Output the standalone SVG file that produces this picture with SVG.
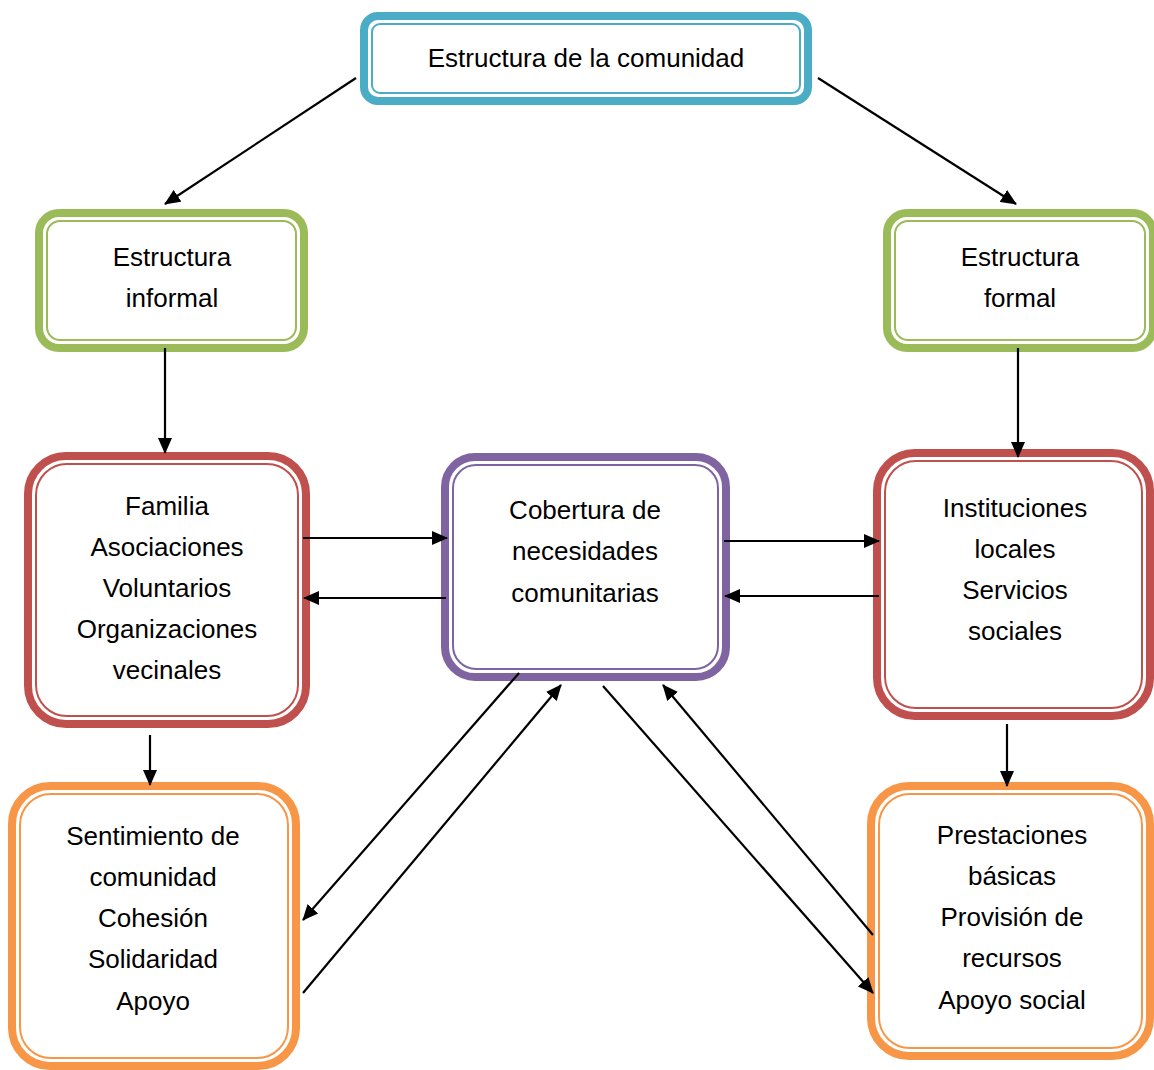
<svg xmlns="http://www.w3.org/2000/svg" width="1154" height="1070" viewBox="0 0 1154 1070">
  <defs>
    <marker id="arrow" markerUnits="userSpaceOnUse" markerWidth="16" markerHeight="14" refX="15" refY="7" orient="auto">
      <path d="M0,0 L16,7 L0,14 z" fill="#000"/>
    </marker>
    <style>
      .outer { fill: #fff; stroke-width: 8; }
      .inner { fill: none; stroke-width: 2; }
      .teal { stroke: #4BACC6; }
      .green { stroke: #9BBB59; }
      .red { stroke: #C0504D; }
      .purple { stroke: #8064A2; }
      .orange { stroke: #F79646; }
      text { font-family: "Liberation Sans", Arial, sans-serif; font-size: 26px; fill: #000; text-anchor: middle; }
      .conn line { stroke: #000; stroke-width: 2.2; marker-end: url(#arrow); }
    </style>
  </defs>
  <rect width="1154" height="1070" fill="#fff"/>

  <!-- top node -->
  <g id="estructura-comunidad">
    <rect class="outer teal" x="364" y="16" width="444" height="85" rx="14"/>
    <rect class="inner teal" x="372" y="24" width="428" height="69" rx="8"/>
    <text x="586" y="67">Estructura de la comunidad</text>
  </g>

  <!-- second row -->
  <g id="estructura-informal">
    <rect class="outer green" x="39" y="213" width="265" height="135" rx="20"/>
    <rect class="inner green" x="47" y="221" width="249" height="119" rx="13"/>
    <text x="172" y="266">Estructura</text>
    <text x="172" y="307">informal</text>
  </g>
  <g id="estructura-formal">
    <rect class="outer green" x="887" y="213" width="266" height="135" rx="20"/>
    <rect class="inner green" x="895" y="221" width="250" height="119" rx="13"/>
    <text x="1020" y="266">Estructura</text>
    <text x="1020" y="307">formal</text>
  </g>

  <!-- middle row -->
  <g id="informal-actores">
    <rect class="outer red" x="28" y="456" width="278" height="268" rx="38"/>
    <rect class="inner red" x="36" y="464" width="262" height="252" rx="31"/>
    <text x="167" y="515">Familia</text>
    <text x="167" y="556">Asociaciones</text>
    <text x="167" y="597">Voluntarios</text>
    <text x="167" y="638">Organizaciones</text>
    <text x="167" y="679">vecinales</text>
  </g>
  <g id="cobertura">
    <rect class="outer purple" x="445" y="457" width="281" height="220" rx="30"/>
    <rect class="inner purple" x="453" y="465" width="265" height="204" rx="23"/>
    <text x="585" y="519">Cobertura de</text>
    <text x="585" y="560">necesidades</text>
    <text x="585" y="602">comunitarias</text>
  </g>
  <g id="formal-actores">
    <rect class="outer red" x="877" y="453" width="273" height="263" rx="38"/>
    <rect class="inner red" x="885" y="461" width="257" height="247" rx="31"/>
    <text x="1015" y="517">Instituciones</text>
    <text x="1015" y="558">locales</text>
    <text x="1015" y="599">Servicios</text>
    <text x="1015" y="640">sociales</text>
  </g>

  <!-- bottom row -->
  <g id="sentimiento">
    <rect class="outer orange" x="12" y="786" width="284" height="280" rx="38"/>
    <rect class="inner orange" x="20" y="794" width="268" height="264" rx="31"/>
    <text x="153" y="845">Sentimiento de</text>
    <text x="153" y="886">comunidad</text>
    <text x="153" y="927">Cohesión</text>
    <text x="153" y="968">Solidaridad</text>
    <text x="153" y="1010">Apoyo</text>
  </g>
  <g id="prestaciones">
    <rect class="outer orange" x="871" y="786" width="279" height="270" rx="38"/>
    <rect class="inner orange" x="879" y="794" width="263" height="254" rx="31"/>
    <text x="1012" y="844">Prestaciones</text>
    <text x="1012" y="885">básicas</text>
    <text x="1012" y="926">Provisión de</text>
    <text x="1012" y="967">recursos</text>
    <text x="1012" y="1009">Apoyo social</text>
  </g>

  <!-- connectors -->
  <g id="connectors" class="conn">
    <line x1="356" y1="78" x2="165" y2="204"/>
    <line x1="818" y1="78" x2="1016" y2="204"/>
    <line x1="165" y1="348" x2="165" y2="453"/>
    <line x1="1018" y1="348" x2="1018" y2="457"/>
    <line x1="303" y1="538" x2="447" y2="538"/>
    <line x1="446" y1="598" x2="304" y2="598"/>
    <line x1="724" y1="541" x2="879" y2="541"/>
    <line x1="879" y1="596" x2="725" y2="596"/>
    <line x1="150" y1="735" x2="150" y2="785"/>
    <line x1="1007" y1="724" x2="1007" y2="786"/>
    <line x1="519" y1="673" x2="303" y2="920"/>
    <line x1="303" y1="993" x2="561" y2="685"/>
    <line x1="603" y1="686" x2="873" y2="993"/>
    <line x1="873" y1="935" x2="663" y2="685"/>
  </g>
</svg>
